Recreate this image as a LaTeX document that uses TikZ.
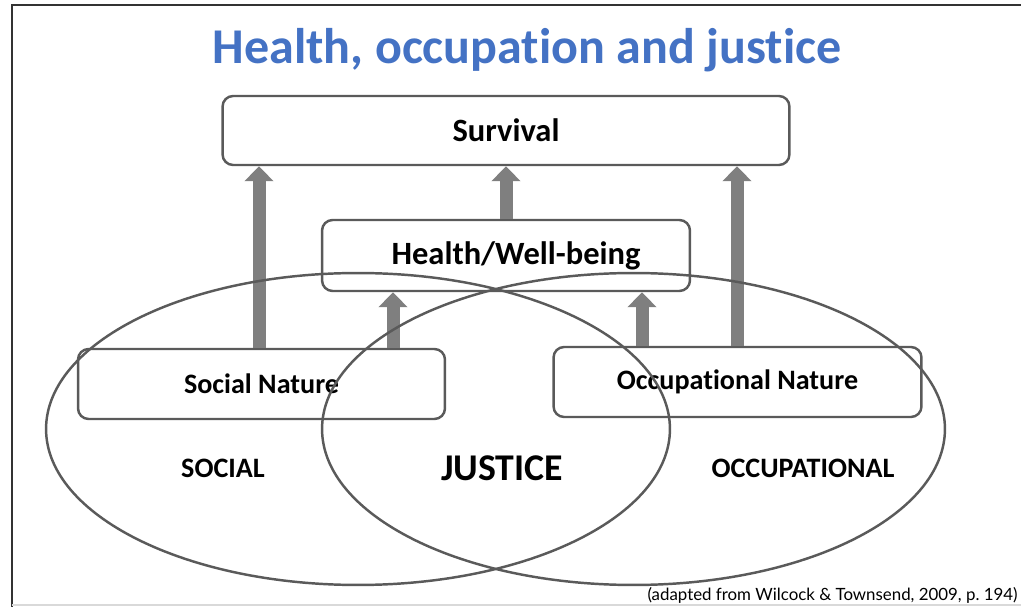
\documentclass[tikz,border=0pt]{standalone}
\usepackage{fontspec}
\setmainfont{Carlito}[Ligatures=NoCommon]
\newfontfamily\notefont{Lato}
\usepackage{tikz}
\usetikzlibrary{positioning}
\usetikzlibrary{arrows.meta}
\definecolor{titleblue}{HTML}{4472C4}
\definecolor{linegray}{HTML}{5A5A5A}
\definecolor{arrowgray}{HTML}{7F7F7F}
\tikzset{
  box/.style={draw=linegray, line width=1.4pt, rounded corners=6pt,
    minimum height=1.38cm, inner sep=0pt},
  bigtext/.style={font=\bfseries\fontsize{18.5}{20}\selectfont},
  midtext/.style={font=\bfseries\fontsize{16}{18}\selectfont},
  ring/.style={draw=linegray, line width=1.4pt},
  uparrow/.style={draw=arrowgray, line width=7.4pt,
    -{Triangle[width=16pt, length=8.5pt]}},
}

\begin{document}
\begin{tikzpicture}[x=0.02cm, y=-0.02cm]
            \useasboundingbox (0,0) rectangle (1021,607);
            % frame
            \draw[line width=1.1pt, black!80] (12,607) -- (12,5) -- (1021,5);
            \draw[line width=1pt, black!15] (12,605) -- (1021,605);
            % title
            \node[text=titleblue, font=\bfseries\fontsize{28.5}{32}\selectfont] (title) at (527,50) {Health, occupation and justice};
            % boxes
            \node[box, bigtext, minimum width=11.34cm] (surv) at (506,130.5) {Survival};
            \node[box, bigtext, minimum width=7.36cm, minimum height=1.42cm, text width=7.36cm, align=center] (health) at (506,255.5) {\hspace*{0.4cm}Health/Well-being};
            \node[box, midtext, minimum width=7.34cm, minimum height=1.4cm] (social) at (261.5,384) {Social Nature};
            \node[box, midtext, minimum width=7.36cm, minimum height=1.4cm] (occ) at (737.5,382) {Occupational Nature};
            % arrows up
            \draw[uparrow] (social.north -| 259,0) -- (surv.south -| 259,0);
            \draw[uparrow] (health.north) -- (surv.south -| health.north);
            \draw[uparrow] (occ.north -| 737,0) -- (surv.south -| 737,0);
            \draw[uparrow] (social.north -| 393,0) -- (health.south -| 393,0);
            \draw[uparrow] (occ.north -| 642,0) -- (health.south -| 642,0);
            % the two rings
            \draw[ring] (358,429) ellipse [x radius=6.24cm, y radius=3.12cm];
            \draw[ring] (633.5,429) ellipse [x radius=6.23cm, y radius=3.12cm];
            % ring labels
            \node[midtext] (sociallbl) at (223,468) {SOCIAL};
            \node[font=\bfseries\fontsize{21.5}{24}\selectfont] (justice) at (502,468) {JUSTICE};
            \node[midtext] (occlbl) at (803,468) {OCCUPATIONAL};
            % source
            \node[anchor=base east, inner sep=0pt, font=\notefont\fontsize{9.6}{11}\selectfont] (src) at (1018,601) {(adapted from Wilcock \& Townsend, 2009, p.~194)};
        \end{tikzpicture}
\end{document}
